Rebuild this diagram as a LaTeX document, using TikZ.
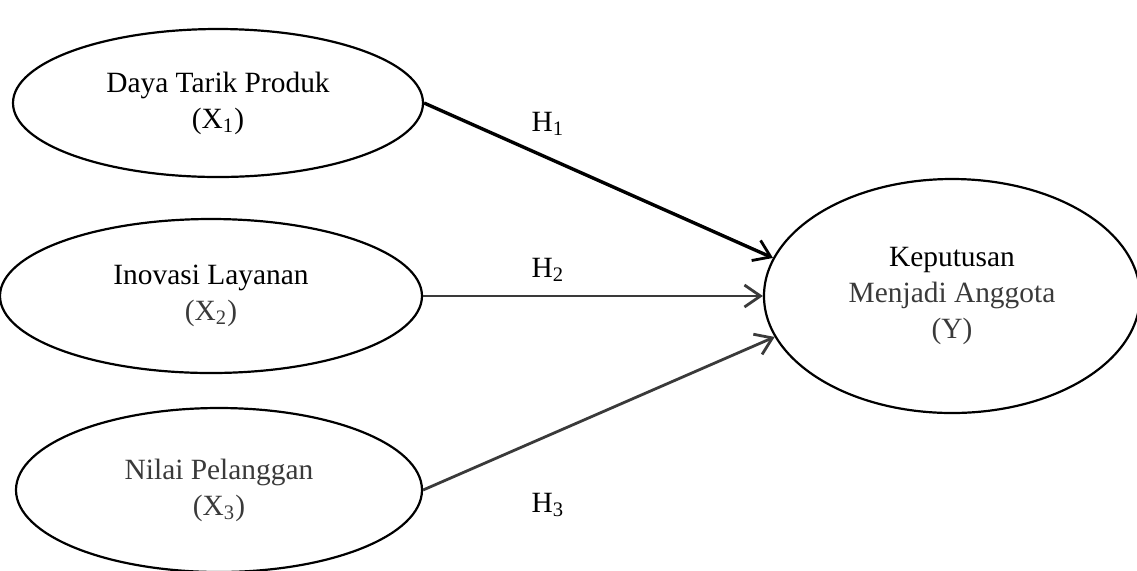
\documentclass[tikz,border=0pt]{standalone}
\usepackage{fontspec}
\setmainfont{Liberation Serif}
\usetikzlibrary{arrows.meta,shapes.geometric}
\definecolor{softblack}{HTML}{3A3A3A}

\begin{document}
\begin{tikzpicture}[x=0.5pt,y=-0.5pt,
    var/.style={ellipse,draw,line width=1.1pt,inner sep=0pt,align=center,
      font=\fontsize{14.7}{18}\selectfont},
    hyp/.style={-{Straight Barb[length=8pt,width=11pt,line width=1.4pt]},line width=1.4pt},
    lbl/.style={font=\fontsize{14.7}{17}\selectfont}]
    \useasboundingbox (0,0) rectangle (1137,570);
    \node[var,minimum width=205pt,minimum height=74pt](x1) at (218,103)
      {Daya Tarik Produk\\(X\textsubscript{1})};
    \node[var,minimum width=211pt,minimum height=77pt,text=softblack](x2) at (211,296)
      {\textcolor{black}{Inovasi Layanan}\\(X\textsubscript{2})};
    \node[var,minimum width=203pt,minimum height=82pt,text=softblack](x3) at (219,490)
      {Nilai Pelanggan\\(X\textsubscript{3})};
    \node[var,minimum width=188pt,minimum height=117pt,text=softblack](y) at (952,296)
      {\textcolor{black}{Keputusan}\\Menjadi Anggota\\(Y)};
    \node[lbl](h1) at (548,124) {H\textsubscript{1}};
    \node[lbl](h2) at (548,270) {H\textsubscript{2}};
    \node[lbl](h3) at (548,505) {H\textsubscript{3}};
    \draw[hyp,line width=1.7pt] (x1.east) -- (y.168);
    \draw[hyp,softblack] (x2.east) -- (y.west);
    \draw[hyp,softblack] (x3.east) -- (y.193);
\end{tikzpicture}
\end{document}
